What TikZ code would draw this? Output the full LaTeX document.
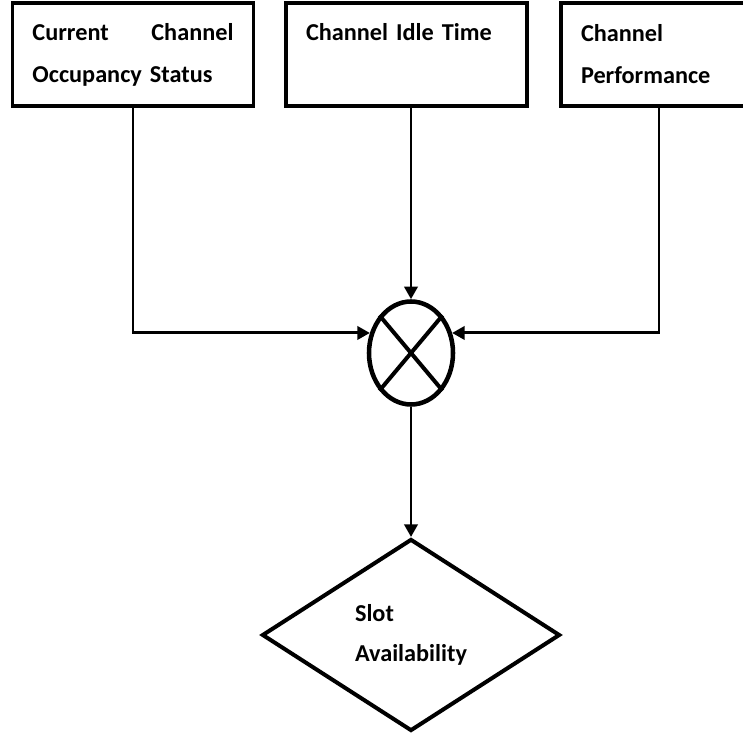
\documentclass[tikz,border=0pt]{standalone}
\usepackage{fontspec}
\setmainfont{Carlito}
\usepackage{tikz}
\usetikzlibrary{shapes, arrows.meta}
\tikzstyle{block} = [rectangle, draw=black, line width=2.6pt, fill=white, minimum height=77.25pt, inner xsep=15pt, align=left, font=\fontsize{18.2pt}{31.5pt}\selectfont\bfseries]
\tikzstyle{mixer} = [ellipse, draw=black, line width=3.4pt, minimum width=63pt, minimum height=77.25pt, inner sep=0pt]
\tikzstyle{decision} = [diamond, draw=black, line width=3pt, minimum width=223.5pt, minimum height=144pt, inner sep=0pt, align=left, font=\fontsize{18.2pt}{30pt}\selectfont\bfseries]
\tikzstyle{arrow} = [-{Triangle[length=9.5pt, width=10pt]}, line width=2.2pt]

\begin{document}
\begin{tikzpicture}[x=0.75pt, y=-0.75pt]

    \useasboundingbox (0, 0) rectangle (743, 737);
    \fill [white] (0, 0) rectangle (743, 737);
    \clip (0, 0) rectangle (743, 737);

    \node (occ) [block, text width=150.75pt] at (133, 54.5) {Current\hfill Channel\\Occupancy Status};
    \node (idle) [block, text width=150.75pt] at (406.5, 54.5) {Channel Idle Time\\\vphantom{Occupancy}};
    \node (perf) [block, text width=117pt] at (659, 54.5) {Channel\\Performance};
    \node (mix) [mixer] at (411, 353) {};
    \node (slot) [decision] at (411, 635) {Slot\\Availability};

    % cross inside the mixer
    \draw [line width=3pt] (mix.130) -- (mix.310);
    \draw [line width=3pt] (mix.50) -- (mix.230);

    \draw [arrow] (occ.south) |- (mix.154);
    \draw [arrow] (mix.north |- idle.south) -- (mix.north);
    \draw [arrow] (perf.south) |- (mix.26);
    \draw [arrow] (mix.south) -- (slot.north);

\end{tikzpicture}
\end{document}
